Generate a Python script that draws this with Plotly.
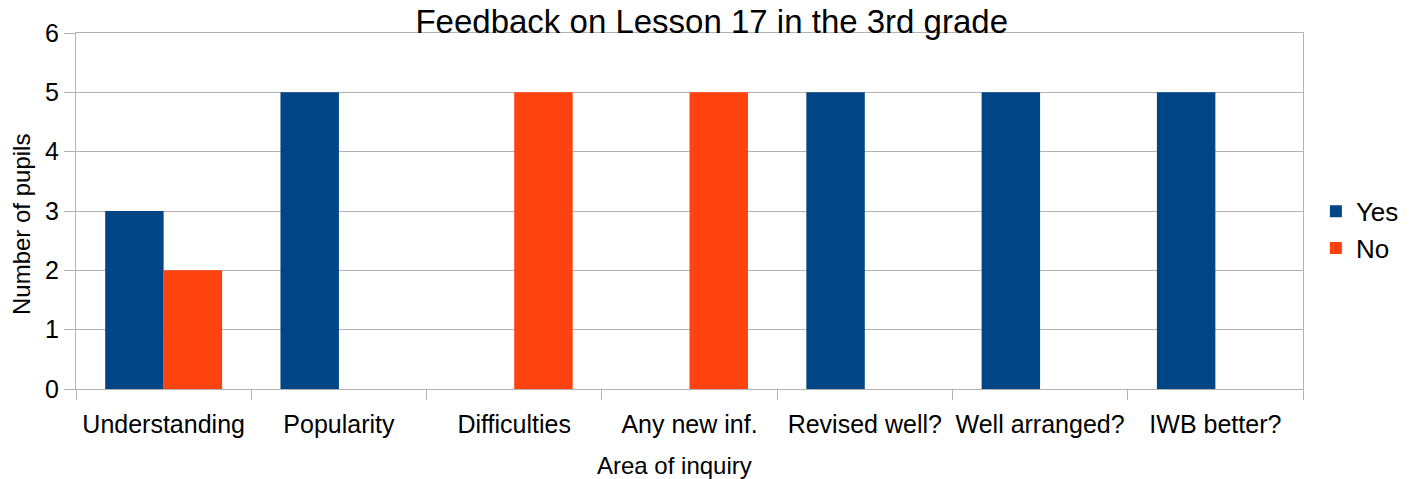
import plotly.graph_objects as go

categories = ["Understanding", "Popularity", "Difficulties", "Any new inf.",
              "Revised well?", "Well arranged?", "IWB better?"]
yes_values = [3, 5, 0, 0, 5, 5, 5]
no_values = [2, 0, 5, 5, 0, 0, 0]

FONT = "Liberation Sans, Arial, sans-serif"
GRID = "#b3b3b3"

fig = go.Figure()
fig.add_trace(go.Bar(name="Yes", x=categories, y=yes_values, marker_color="#004586",
                     marker_line_width=0))
fig.add_trace(go.Bar(name="No", x=categories, y=no_values, marker_color="#ff420e",
                     marker_line_width=0))

fig.update_layout(
    width=1415, height=479,
    barmode="group", bargap=0.333, bargroupgap=0,
    plot_bgcolor="white", paper_bgcolor="white",
    margin=dict(l=76, r=112, t=33, b=90, autoexpand=False),
    font=dict(family=FONT, color="black", size=24),
    title=dict(text="Feedback on Lesson 17 in the 3rd grade", x=0.503, xanchor="center",
               xref="container", y=1 - 21 / 479, yanchor="middle", yref="container",
               font=dict(size=33, family=FONT, color="black")),
    legend=dict(x=1.0105, y=0.447, xanchor="left", yanchor="middle",
                font=dict(size=26, family=FONT), itemwidth=30, traceorder="normal"),
    xaxis=dict(
        automargin=False, tickangle=0,
        showline=True, linecolor=GRID, linewidth=1, mirror=True,
        ticks="outside", tickson="boundaries", ticklen=10, tickcolor=GRID,
        showgrid=False, tickfont=dict(size=25), ticklabelstandoff=13,
    ),
    yaxis=dict(
        automargin=False,
        range=[0, 6], dtick=1, showgrid=True, gridcolor=GRID, gridwidth=1,
        showline=True, linecolor=GRID, linewidth=1, mirror=True,
        ticks="outside", ticklen=11, tickcolor=GRID, tickfont=dict(size=25),
        zeroline=False,
    ),
    annotations=[
        dict(text="Area of inquiry", xref="paper", yref="paper",
             x=(674.5 - 76) / 1227, y=-(465 - 389) / 356, xanchor="center", yanchor="middle",
             showarrow=False, font=dict(size=24, family=FONT, color="black")),
        dict(text="Number of pupils", xref="paper", yref="paper", textangle=-90,
             x=-(76 - 21) / 1227, y=(389 - 225) / 356, xanchor="center", yanchor="middle",
             showarrow=False, font=dict(size=24, family=FONT, color="black")),
    ],
)

fig.write_html("out.html", post_script="document.body.style.margin='0';",
               config={"displayModeBar": False})
